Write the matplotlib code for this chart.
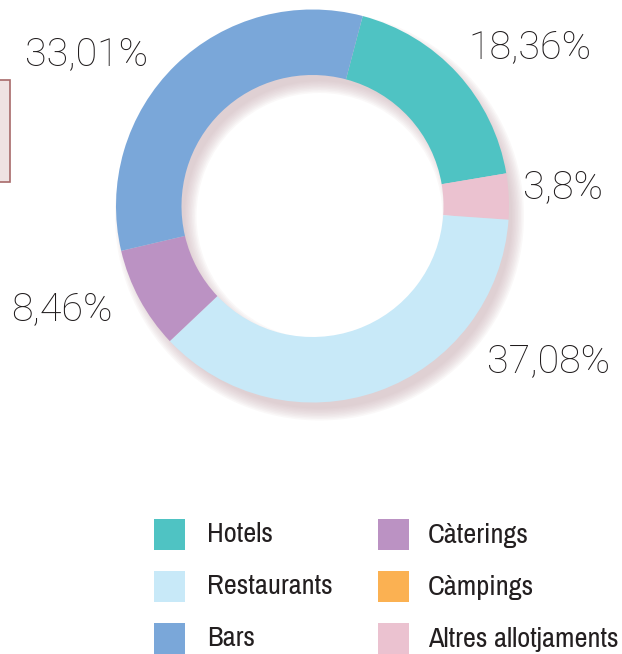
import matplotlib
matplotlib.use("Agg")
import matplotlib.pyplot as plt
from matplotlib.patches import Wedge, Rectangle
from matplotlib import font_manager

# data
categories = ["Hotels", "Altres allotjaments", "Restaurants", "Càterings", "Bars"]
values = [18.36, 3.8, 37.08, 8.46, 33.01]
value_labels = ["18,36%", "3,8%", "37,08%", "8,46%", "33,01%"]
colors = {
    "Hotels": "#4fc3c3",
    "Restaurants": "#c8e9f8",
    "Bars": "#7aa7d9",
    "Càterings": "#bb92c3",
    "Càmpings": "#fbb152",
    "Altres allotjaments": "#ebc2d0",
}
legend_col1 = ["Hotels", "Restaurants", "Bars"]
legend_col2 = ["Càterings", "Càmpings", "Altres allotjaments"]

W, H = 622, 654
fig = plt.figure(figsize=(W / 100, H / 100), dpi=100)
ax = fig.add_axes([0, 0, 1, 1])
renderer = fig.canvas.get_renderer()

fonts = font_manager.fontManager.ttflist
names = {f.name for f in fonts}
num_font = "Roboto" if "Roboto" in names else "DejaVu Sans"
# look for a narrow face for the legend
leg_font, leg_stretch = num_font, "normal"
for f in fonts:
    if "Narrow" in f.name or "Condensed" in f.name:
        leg_font, leg_stretch = f.name, "normal"
        break
else:
    for f in fonts:
        if f.stretch in ("condensed", "semi-condensed") and f.name in names:
            leg_font, leg_stretch = f.name, f.stretch
            break


def fit_size(text, width, **kw):
    t = fig.text(0, 0, text, fontsize=20, **kw)
    w = t.get_window_extent(renderer).width
    t.remove()
    return 20 * width / w


cx, cy = 312.5, H - 206
R, r = 196.5, 131

# soft shadow behind the ring
for i in range(9):
    ax.add_patch(Wedge((cx + 7, cy - 10), R + 8 - i * 1.5, 0, 360,
                       width=R - r + 16 - i * 3, facecolor="#cdb3b6",
                       edgecolor="none", alpha=0.09, zorder=1))

wedges, _ = ax.pie(values, colors=[colors[c] for c in categories],
                   startangle=75.2, counterclock=False, center=(cx, cy),
                   radius=R, wedgeprops=dict(width=R - r, edgecolor="none"))
for w in wedges:
    w.set_zorder(2)

ax.set_xlim(0, W)
ax.set_ylim(0, H)
ax.set_aspect("equal")
ax.axis("off")

num_size = fit_size("33,01%", 123, family=num_font, weight="light")
label_pos = [(530, 47), (563, 187), (549, 361), (62, 309), (87, 54)]
for (x, y), t in zip(label_pos, value_labels):
    ax.text(x, H - y, t, fontsize=num_size, family=num_font, weight="light",
            color="#1f1b1c", ha="center", va="center", zorder=3)

# partly visible box on the left edge
ax.add_patch(Rectangle((-20, H - 182), 30, 102, facecolor="#efe3e3",
                       edgecolor="#a86a6a", lw=1.2, zorder=3))

# legend
leg_size = fit_size("Altres allotjaments", 190, family=leg_font,
                    stretch=leg_stretch, weight="light")
for col, (sx, tx) in zip([legend_col1, legend_col2], [(154, 207), (378, 428)]):
    for i, name in enumerate(col):
        y = 519 + i * 52
        ax.add_patch(Rectangle((sx, H - y - 31), 31, 31,
                               facecolor=colors[name], edgecolor="none", zorder=3))
        ax.text(tx, H - y - 16, name, fontsize=leg_size, family=leg_font,
                stretch=leg_stretch, weight="light", color="#231f20",
                ha="left", va="center", zorder=3)

fig.savefig("out.png", dpi=100)
